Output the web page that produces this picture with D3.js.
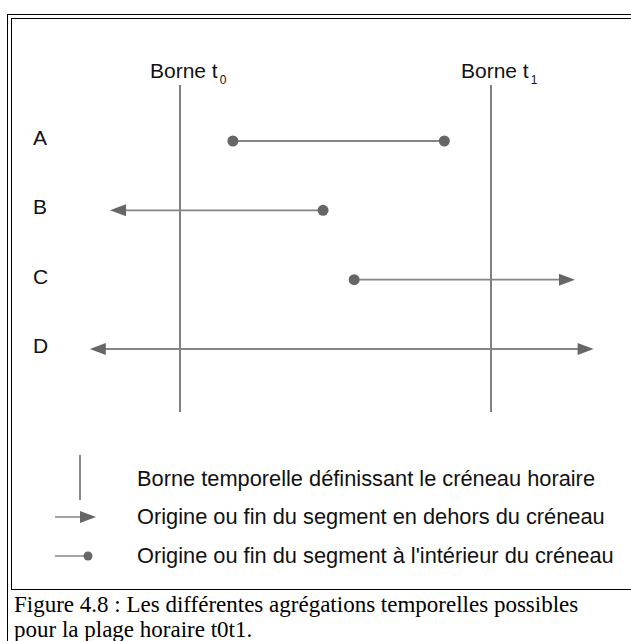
<!DOCTYPE html>
<html>
<head>
<meta charset="utf-8">
<script src="https://cdn.jsdelivr.net/npm/d3@7"></script>
<style>
  body { margin: 0; background: #fff; }
  svg { display: block; }
</style>
</head>
<body>
<svg id="fig"></svg>
<script>
// time bounds of the slot (arbitrary units, t0 -> t1)
const bounds = [0, 10]
const boundLabels = ["0", "1"]

// segments A..D : origin, end, and how each end is drawn
const rows = ["A", "B", "C", "D"]
const segFrom = [1.7, -2.25, 5.6, -2.9]
const segTo = [8.5, 4.6, 12.7, 13.3]
const fromEnd = ["dot", "arrow", "dot", "arrow"]
const toEnd = ["dot", "dot", "arrow", "arrow"]

const legendLabels = [
  "Borne temporelle définissant le créneau horaire",
  "Origine ou fin du segment en dehors du créneau",
  "Origine ou fin du segment à l'intérieur du créneau"
]
const captionLines = [
  "Figure 4.8 : Les différentes agrégations temporelles possibles",
  "pour la plage horaire t0t1."
]

let width = 631, height = 641

var svg = d3.select("#fig")
  .attr("width", width)
  .attr("height", height)

var x = d3.scaleLinear().domain(bounds).range([180, 491])
var y = d3.scalePoint().domain(rows).range([141, 349])

var sans = "'Liberation Sans', Arial, sans-serif"
var lineCol = "#858585", markCol = "#666"

// frames
svg.append("rect")
  .attr("x", 7.5).attr("y", 14.5)
  .attr("width", 700).attr("height", 700)
  .attr("fill", "none").attr("stroke", "#000")
svg.append("rect")
  .attr("x", 11.5).attr("y", 18.5)
  .attr("width", 700).attr("height", 571)
  .attr("fill", "none").attr("stroke", "#000")

// bound lines + labels
var b = svg.selectAll(".bound").data(bounds).enter()
  .append("g").attr("class", "bound")

b.append("line")
  .attr("x1", d => x(d)).attr("x2", d => x(d))
  .attr("y1", 85).attr("y2", 412)
  .attr("stroke", "#555").attr("stroke-width", 1.5)

var bl = b.append("text")
  .attr("x", d => x(d) - 30).attr("y", 78)
  .attr("font-family", sans).attr("font-size", 21)
  .attr("fill", "#111")
bl.append("tspan").text("Borne t")
bl.append("tspan")
  .attr("font-size", 12).attr("dx", 2).attr("dy", 6)
  .text((d, i) => boundLabels[i])

// row letters
svg.selectAll(".row").data(rows).enter()
  .append("text").attr("class", "row")
  .attr("x", 33).attr("y", d => y(d) + 4)
  .attr("font-family", sans).attr("font-size", 21)
  .attr("fill", "#111")
  .text(d => d)

var segs = rows.map((r, i) => ({
  row: r, from: segFrom[i], to: segTo[i], a: fromEnd[i], b: toEnd[i]
}))

var arrowLen = 16, arrowHalf = 6, dotR = 5.5

function arrow(g, tipX, yy, dir) {
  g.append("path")
    .attr("d", `M${tipX},${yy} L${tipX - dir * arrowLen},${yy - arrowHalf} L${tipX - dir * arrowLen},${yy + arrowHalf} Z`)
    .attr("fill", markCol)
}

var sg = svg.selectAll(".seg").data(segs).enter()
  .append("g").attr("class", "seg")

sg.each(function(d) {
  var g = d3.select(this)
  var yy = y(d.row)
  var x1 = x(d.from), x2 = x(d.to)
  var lx1 = d.a == "arrow" ? x1 + arrowLen - 2 : x1
  var lx2 = d.b == "arrow" ? x2 - arrowLen + 2 : x2
  g.append("line")
    .attr("x1", lx1).attr("x2", lx2)
    .attr("y1", yy).attr("y2", yy)
    .attr("stroke", lineCol).attr("stroke-width", 1.8)
  if (d.a == "dot") g.append("circle").attr("cx", x1).attr("cy", yy).attr("r", dotR).attr("fill", markCol)
  else arrow(g, x1, yy, -1)
  if (d.b == "dot") g.append("circle").attr("cx", x2).attr("cy", yy).attr("r", dotR).attr("fill", markCol)
  else arrow(g, x2, yy, 1)
})

// legend
var legY = [486, 524, 563]
var lg = svg.append("g")

lg.append("line")
  .attr("x1", 80).attr("x2", 80)
  .attr("y1", 455).attr("y2", 500)
  .attr("stroke", "#111").attr("stroke-width", 1)

lg.append("line")
  .attr("x1", 55).attr("x2", 82)
  .attr("y1", legY[1] - 7).attr("y2", legY[1] - 7)
  .attr("stroke", lineCol).attr("stroke-width", 1.5)
arrow(lg, 96, legY[1] - 7, 1)

lg.append("line")
  .attr("x1", 55).attr("x2", 88)
  .attr("y1", legY[2] - 7).attr("y2", legY[2] - 7)
  .attr("stroke", lineCol).attr("stroke-width", 1.5)
lg.append("circle")
  .attr("cx", 88).attr("cy", legY[2] - 7).attr("r", 4.5)
  .attr("fill", markCol)

lg.selectAll("text").data(legendLabels).enter()
  .append("text")
  .attr("x", 137).attr("y", (d, i) => legY[i])
  .attr("font-family", sans).attr("font-size", 21.8)
  .attr("fill", "#111")
  .text(d => d)

// caption
svg.selectAll(".cap").data(captionLines).enter()
  .append("text").attr("class", "cap")
  .attr("x", 14).attr("y", (d, i) => 612 + i * 25)
  .attr("font-family", "'Liberation Serif', 'Times New Roman', serif")
  .attr("font-size", 23)
  .attr("fill", "#000")
  .text(d => d)
</script>
</body>
</html>
